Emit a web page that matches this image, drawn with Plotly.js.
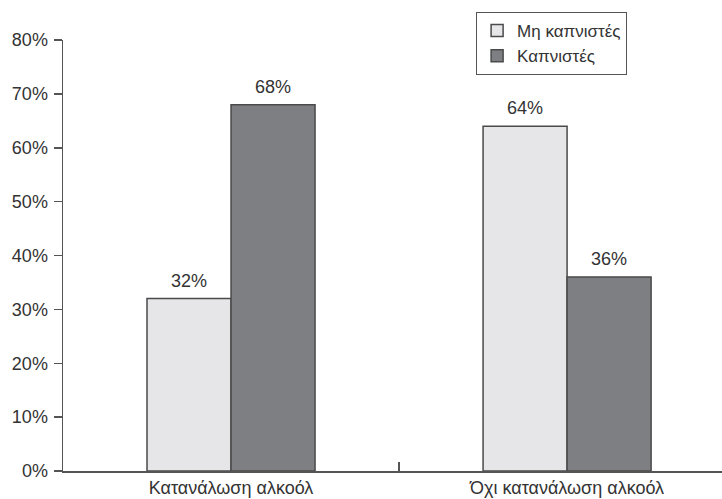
<!DOCTYPE html>
<html>
<head>
<meta charset="utf-8">
<script src="https://cdn.plot.ly/plotly-3.0.1.min.js"></script>
<style>html,body{margin:0;padding:0;background:#fff;}#chart{width:722px;height:499px;}</style>
</head>
<body>
<div id="chart"></div>
<script>
const categories = ["Κατανάλωση αλκοόλ", "Όχι κατανάλωση αλκοόλ"];
const seriesNames = ["Μη καπνιστές", "Καπνιστές"];
const nonSmokers = [0.32, 0.64];
const smokers = [0.68, 0.36];
const yTickVals = [0, 0.1, 0.2, 0.3, 0.4, 0.5, 0.6, 0.7, 0.8];
const yTickText = ["0%", "10%", "20%", "30%", "40%", "50%", "60%", "70%", "80%"];

const fontFam = "Liberation Sans, Arial, sans-serif";
const pct = v => Math.round(v * 100) + "%";

const traces = [
  {
    type: "bar", name: seriesNames[0], x: categories, y: nonSmokers,
    marker: {color: "#e6e6e8", line: {color: "#4a4a4a", width: 1.5}},
    hoverinfo: "none"
  },
  {
    type: "bar", name: seriesNames[1], x: categories, y: smokers,
    marker: {color: "#7e7f83", line: {color: "#4a4a4a", width: 1.5}},
    hoverinfo: "none"
  }
];

// value labels above each bar (bar groups: 2 bars, each 0.25 category wide)
const annotations = [];
[nonSmokers, smokers].forEach((vals, s) => {
  vals.forEach((v, i) => {
    annotations.push({
      x: i + (s === 0 ? -0.125 : 0.125), y: v, xref: "x", yref: "y",
      text: pct(v), showarrow: false, yanchor: "bottom", yshift: 6,
      font: {family: fontFam, size: 18, color: "#333"}
    });
  });
});

const layout = {
  width: 722, height: 499,
  margin: {l: 63, r: 0, t: 40, b: 28},
  paper_bgcolor: "#fff", plot_bgcolor: "#fff",
  font: {family: fontFam, size: 18, color: "#333"},
  barmode: "group", bargap: 0.5, bargroupgap: 0,
  showlegend: true,
  annotations: annotations,
  legend: {
    x: 0.856, y: 1.065, xanchor: "right", yanchor: "top",
    bordercolor: "#555", borderwidth: 1, bgcolor: "#fff",
    font: {family: fontFam, size: 17, color: "#333"},
    tracegroupgap: 0, itemwidth: 30
  },
  xaxis: {
    type: "category", range: [-0.5, 1.461],
    showgrid: false, zeroline: false,
    showline: true, linecolor: "#555", linewidth: 1.5,
    tickson: "boundaries", ticks: "inside", ticklen: 9, tickcolor: "#555", tickwidth: 1.5,
    tickfont: {family: fontFam, size: 18, color: "#333"}
  },
  yaxis: {
    range: [0, 0.8], showgrid: false, zeroline: false,
    showline: true, linecolor: "#555", linewidth: 1.5,
    ticks: "outside", ticklen: 8, tickcolor: "#555", tickwidth: 1.5,
    tickvals: yTickVals, ticktext: yTickText, ticklabelstandoff: 2,
    tickfont: {family: fontFam, size: 18, color: "#333"}
  }
};

Plotly.newPlot("chart", traces, layout, {displayModeBar: false, staticPlot: true});
</script>
</body>
</html>
